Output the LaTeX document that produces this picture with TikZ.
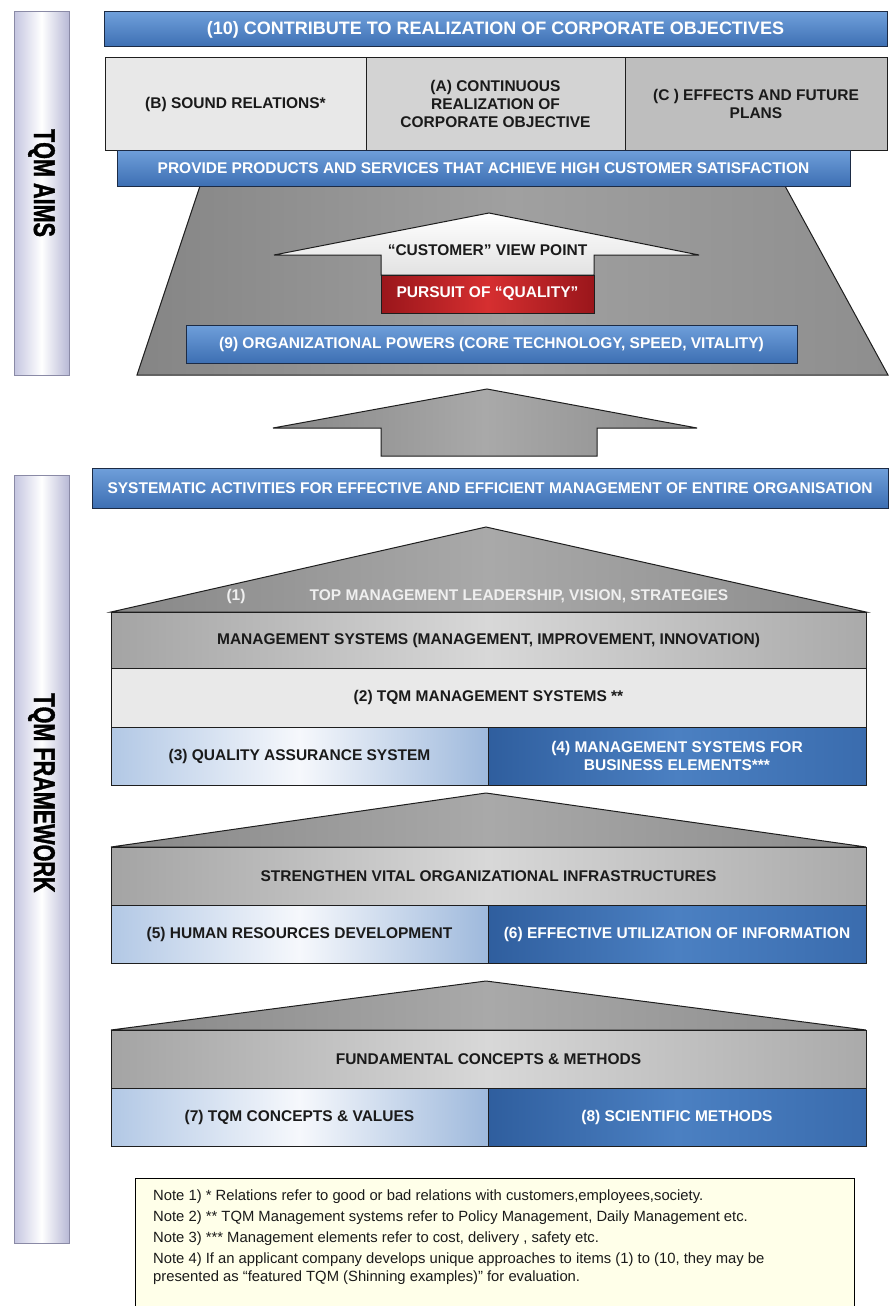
\documentclass[tikz,border=0pt]{standalone}
\usepackage{fontspec}
\setmainfont{Liberation Sans}
\newfontfamily\sidefont[FakeStretch=0.72,FakeBold=1.2]{Liberation Sans}

% colours
\definecolor{navy}{HTML}{1C2B45}
\definecolor{edgecol}{HTML}{1E1E1E}
\definecolor{bluetop}{HTML}{6F9FDA}
\definecolor{bluebot}{HTML}{3D6FB3}
\definecolor{dblueL}{HTML}{2F5E9E}
\definecolor{dblueM}{HTML}{4B80C2}
\definecolor{dblueR}{HTML}{3A6CAE}
\definecolor{lblueL}{HTML}{B2C8E5}
\definecolor{lblueM}{HTML}{F6F8FC}
\definecolor{lblueR}{HTML}{9EB9DC}
\definecolor{boxB}{HTML}{E8E8E8}
\definecolor{boxA}{HTML}{D3D3D3}
\definecolor{boxC}{HTML}{BEBEBE}
\definecolor{pale}{HTML}{E9E9E9}
\definecolor{ggL}{HTML}{A4A4A4}
\definecolor{ggM}{HTML}{D8D8D8}
\definecolor{ggR}{HTML}{AAAAAA}
\definecolor{roofL}{HTML}{878787}
\definecolor{roofM}{HTML}{A9A9A9}
\definecolor{roofR}{HTML}{8B8B8B}
\definecolor{trapL}{HTML}{858585}
\definecolor{trapM}{HTML}{A0A0A0}
\definecolor{trapR}{HTML}{8E8E8E}
\definecolor{arrowW}{HTML}{E2E2E2}
\definecolor{redL}{HTML}{9A161B}
\definecolor{redM}{HTML}{D62F30}
\definecolor{sideL}{HTML}{C4C5E0}
\definecolor{sideR}{HTML}{B8B9D6}
\definecolor{sideEdge}{HTML}{8A8AA6}
\definecolor{notefill}{HTML}{FFFFE9}
\definecolor{textdark}{HTML}{1A1A1A}
\definecolor{rooftext}{HTML}{EFEFEF}

\newcommand\lab{\bfseries\fontsize{15.5}{18}\selectfont}
\newcommand\biglab{\bfseries\fontsize{18}{20}\selectfont}
\newcommand\notefont{\fontsize{14.8}{17}\selectfont}
\newcommand\sidelab{\sidefont\bfseries\fontsize{30}{30}\selectfont}

\begin{document}
\begin{tikzpicture}[x=1pt,y=-1pt,
  outline/.style={draw=edgecol, line width=1pt},
  boxbase/.style={outline, inner sep=0pt, align=center, font=\lab, text=textdark},
  bluebar/.style={boxbase, draw=navy, top color=bluetop, bottom color=bluebot, text=white},
  greybox/.style={boxbase},
  greygrad/.style={boxbase, left color=ggL, right color=ggR, middle color=ggM},
  lightblue/.style={boxbase, left color=lblueL, right color=lblueR, middle color=lblueM},
  darkblue/.style={boxbase, left color=dblueL, right color=dblueR, middle color=dblueM, text=white},
  redbox/.style={boxbase, left color=redL, right color=redL, middle color=redM, text=white},
  roof/.style={outline, left color=roofL, right color=roofR, middle color=roofM},
  sidebar/.style={draw=sideEdge, line width=1pt, left color=sideL, right color=sideR, middle color=white},
  sidelabel/.style={font=\sidelab, text=black, inner sep=0pt},
  notebox/.style={draw=black, line width=0.9pt, fill=notefill},
  noteline/.style={font=\notefont, text=textdark, anchor=base west, inner sep=0pt},
  plaintext/.style={font=\lab, inner sep=0pt}]

\useasboundingbox (0,0) rectangle (892,1306);
\fill[white] (0,0) rectangle (892,1306);

% side bars with vertical titles
\node[sidebar, minimum width=55pt, minimum height=363pt] (aimsbar) at (41.5,193.5) {};
\node[sidelabel, rotate=-90] (aimslab) at (41.5,183) {TQM AIMS};
\node[sidebar, minimum width=55pt, minimum height=768pt] (fwbar) at (41.5,859) {};
\node[sidelabel, rotate=-90] (fwlab) at (41.5,793) {TQM FRAMEWORK};

% ---------- aims ----------
\path[outline, left color=trapL, right color=trapR, middle color=trapM]
  (200,186) -- (785,186) -- (888,375) -- (137,375) -- cycle;

\node[bluebar, font=\biglab, minimum width=783pt, minimum height=35pt] (obj) at (495.5,29.5)
  {(10) CONTRIBUTE TO REALIZATION OF CORPORATE OBJECTIVES};

\node[greybox, fill=boxB, minimum width=261pt, minimum height=92pt] (rel) at (235.5,104)
  {(B) SOUND RELATIONS*};
\node[greybox, fill=boxA, minimum width=259pt, minimum height=92pt] (cont) at (495.5,104)
  {(A) CONTINUOUS\\REALIZATION OF\\CORPORATE OBJECTIVE};
\node[greybox, fill=boxC, minimum width=262pt, minimum height=92pt] (eff) at (756,104)
  {(C ) EFFECTS AND FUTURE\\PLANS};

\node[bluebar, minimum width=733pt, minimum height=36pt] (prov) at (483.5,168)
  {PROVIDE PRODUCTS AND SERVICES THAT ACHIEVE HIGH CUSTOMER SATISFACTION};

% customer arrow
\path[outline, top color=white, bottom color=arrowW]
  (489,213) -- (699,255) -- (594,255) -- (594,275) -- (381,275) -- (381,255) -- (274,255) -- cycle;
\node[plaintext, text=textdark] (view) at (487.5,250) {“CUSTOMER” VIEW POINT};
\node[redbox, minimum width=213pt, minimum height=38pt] (qual) at (487.5,294) {PURSUIT OF “QUALITY”};

\node[bluebar, minimum width=611pt, minimum height=38pt] (powers) at (491.5,344)
  {(9) ORGANIZATIONAL POWERS (CORE TECHNOLOGY, SPEED, VITALITY)};

% connecting arrow
\path[outline, left color=roofL, right color=roofR, middle color=roofM]
  (487,389) -- (697,428) -- (597,428) -- (597,456) -- (381,456) -- (381,428) -- (273,428) -- cycle;

% ---------- framework ----------
\node[bluebar, minimum width=796pt, minimum height=40pt] (sys) at (490,488)
  {SYSTEMATIC ACTIVITIES FOR EFFECTIVE AND EFFICIENT MANAGEMENT OF ENTIRE ORGANISATION};

\path[roof] (111,612) -- (486,527) -- (866,612) -- cycle;
\node[plaintext, text=rooftext] (one) at (236,596) {(1)};
\node[plaintext, text=rooftext] (lead) at (519,596) {TOP MANAGEMENT LEADERSHIP, VISION, STRATEGIES};

\node[greygrad, minimum width=755pt, minimum height=56pt] (ms) at (488.5,640)
  {MANAGEMENT SYSTEMS (MANAGEMENT, IMPROVEMENT, INNOVATION)};
\node[greybox, fill=pale, minimum width=755pt, minimum height=59pt] (tqms) at (488.5,697.5)
  {(2) TQM MANAGEMENT SYSTEMS **};
\node[lightblue, minimum width=377pt, minimum height=58pt] (qa) at (299.5,756)
  {(3) QUALITY ASSURANCE SYSTEM};
\node[darkblue, minimum width=378pt, minimum height=58pt] (bus) at (677,756)
  {(4) MANAGEMENT SYSTEMS FOR\\BUSINESS ELEMENTS***};

\path[roof] (111,847) -- (486,793) -- (866,847) -- cycle;
\node[greygrad, minimum width=755pt, minimum height=58pt] (infra) at (488.5,876)
  {STRENGTHEN VITAL ORGANIZATIONAL INFRASTRUCTURES};
\node[lightblue, minimum width=377pt, minimum height=58pt] (hr) at (299.5,934)
  {(5) HUMAN RESOURCES DEVELOPMENT};
\node[darkblue, minimum width=378pt, minimum height=58pt] (info) at (677,934)
  {(6) EFFECTIVE UTILIZATION OF INFORMATION};

\path[roof] (111,1030) -- (486,981) -- (866,1030) -- cycle;
\node[greygrad, minimum width=755pt, minimum height=58pt] (fund) at (488.5,1059)
  {FUNDAMENTAL CONCEPTS \& METHODS};
\node[lightblue, minimum width=377pt, minimum height=58pt] (vals) at (299.5,1117)
  {(7) TQM CONCEPTS \& VALUES};
\node[darkblue, minimum width=378pt, minimum height=58pt] (sci) at (677,1117)
  {(8) SCIENTIFIC METHODS};

% ---------- notes ----------
\node[notebox, minimum width=719pt, minimum height=150pt, anchor=north west, inner sep=0pt] (notes) at (135,1178) {};
\node[noteline] (n1) at (153,1200) {Note 1) * Relations refer to good or bad relations with customers,employees,society.};
\node[noteline] (n2) at (153,1221) {Note 2) ** TQM Management systems refer to Policy Management, Daily Management etc.};
\node[noteline] (n3) at (153,1242) {Note 3) *** Management elements refer to cost, delivery , safety etc.};
\node[noteline] (n4) at (153,1263) {Note 4) If an applicant company develops unique approaches to items (1) to (10, they may be};
\node[noteline] (n5) at (153,1281) {presented as “featured TQM (Shinning examples)” for evaluation.};

\end{tikzpicture}
\end{document}
